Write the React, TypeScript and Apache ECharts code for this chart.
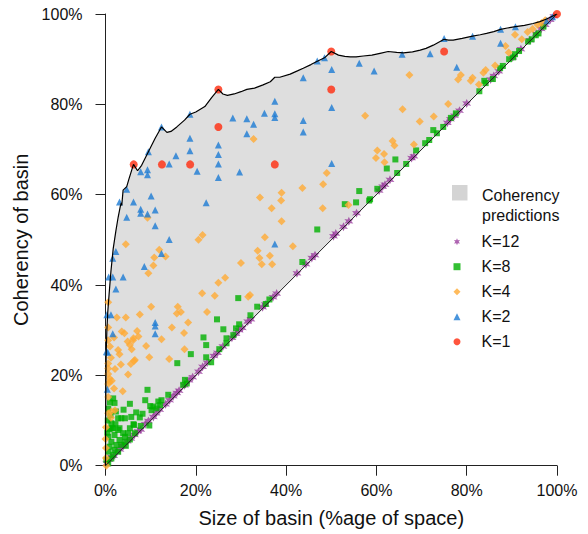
import React, { useEffect, useRef } from "react";
import * as echarts from "echarts";

// Axis ticks (percent)
const xTicks = [0, 20, 40, 60, 80, 100];
const yTicks = [0, 20, 40, 60, 80, 100];

// Upper envelope of the coherency predictions region
const curveX = [0, 0.02, 0.08, 0.15, 0.3, 0.5, 0.8, 1.2, 1.7, 2.3, 2.8, 3.3, 3.5, 3.6, 3.9, 4.7, 5.2, 6.2, 7.1, 8.0, 9.5, 11.0, 12.4, 13.6, 14.5, 15.8, 17.5, 18.7, 20.0, 22.0, 23.5, 25.0, 26.0, 27.0, 28.5, 30.0, 31.3, 33.0, 34.9, 36.5, 37.5, 38.6, 40.9, 42.5, 43.8, 45.5, 46.8, 48.5, 50.0, 51.6, 53.0, 54.2, 55.5, 57.1, 59.0, 60.8, 62.6, 64.5, 66.0, 68.0, 69.7, 71.0, 72.6, 75.0, 76.0, 77.0, 79.0, 81.3, 83.0, 84.4, 86.0, 87.5, 89.0, 90.8, 92.8, 94.7, 96.2, 97.7, 100];
const curveY = [0, 8, 18, 25, 30, 34, 38, 43, 48, 52, 55, 57.5, 58.2, 57.6, 61.0, 61.8, 63.5, 66.7, 65.3, 66.5, 69.5, 72.5, 75.0, 73.8, 74.0, 75.0, 76.5, 77.8, 78.3, 79.5, 81.5, 83.3, 82.3, 82.0, 82.3, 82.8, 83.3, 83.6, 84.3, 85.0, 86.0, 86.0, 86.7, 87.4, 88.0, 88.8, 89.5, 90.3, 91.7, 90.9, 90.6, 90.5, 90.5, 90.7, 90.9, 91.3, 91.7, 91.5, 91.4, 91.6, 92.0, 92.4, 93.1, 94.4, 94.2, 94.2, 94.6, 95.1, 95.4, 95.7, 96.1, 96.6, 96.9, 97.2, 97.5, 97.9, 98.3, 98.9, 100];

// Lower bound (size = coherency)
const diagX = [0, 100];
const diagY = [0, 100];

// Observed basins, [size %, coherency %]
const k1 = [[6.25, 66.7], [12.5, 66.7], [18.75, 66.7], [25, 83.3], [25, 75], [37.5, 66.7], [50, 91.7], [50, 83.3], [75, 91.7], [100, 100]];

const k2 = [[4.7, 61.2], [12.4, 75.0], [18.7, 77.8], [9.5, 69.5], [15.6, 68.6], [18.7, 72.5], [18.7, 69.7], [14.1, 66.8], [7.8, 65.1], [9.3, 65.5], [9.3, 64.4], [20.3, 65.2], [25.0, 71.0], [25.0, 68.9], [25.0, 66.8], [25.0, 63.8], [28.2, 77.0], [31.3, 76.8], [32.8, 75.6], [31.3, 73.5], [29.7, 65.0], [35.2, 78.0], [37.5, 80.7], [37.5, 77.9], [37.5, 77.1], [10.1, 59.7],
  [46.9, 89.6], [48.5, 90.3], [43.8, 85.9], [50.1, 87.7], [56.2, 89.1], [59.5, 87.4], [65.7, 91.1], [71.9, 91.2], [75.0, 94.6], [81.3, 95.1], [87.5, 96.6], [90.8, 97.2], [87.5, 93.5], [77.8, 88.2], [50.1, 79.3], [43.8, 76.4], [43.8, 73.9], [50.1, 66.9], [97.7, 98.5], [99.0, 99.4],
  [3.1, 58.4], [6.2, 58.4], [7.8, 56.8], [7.8, 55.9], [11.0, 56.6], [9.3, 55.7], [4.7, 55.0], [11.0, 53.1], [22.3, 58.2], [14.1, 50.1], [12.4, 47.0], [2.3, 47.4], [1.6, 45.9], [8.6, 44.1], [3.9, 41.8], [0.7, 41.8], [1.6, 41.8], [2.3, 39.1], [37.5, 49.1], [0.3, 33.4], [1.2, 33.4], [11.0, 31.7], [11.0, 30.9], [11.0, 29.2], [1.6, 29.2], [0.2, 25.2], [0.5, 25.1], [0.4, 16.9]];

const k4 = [[90.7, 95.4], [92.2, 94.4], [88.6, 92.9], [89.3, 91.5], [86.3, 88.6], [84.2, 87.6], [83.7, 87.0], [78.7, 86.5], [78.1, 85.5], [81.3, 85.9], [80.9, 85.2], [82.7, 84.4], [67.3, 86.5], [65.8, 78.9], [75.9, 80.1], [72.7, 77.3], [69.6, 76.2], [57.5, 77.5], [63.6, 71.9], [64.0, 70.9], [68.3, 71.1], [60.2, 69.8], [61.7, 69.0], [59.9, 68.1], [61.8, 67.2], [49.0, 64.8], [48.2, 62.3], [43.6, 61.5], [39.0, 60.4], [93.5, 96.0], [94.6, 96.7], [95.7, 97.6], [96.6, 98.0], [97.4, 98.6],
  [32.8, 72.3], [34.2, 59.4], [38.9, 58.7], [48.1, 57.0], [39.0, 54.1], [41.5, 48.6], [53.8, 57.7],
  [9.3, 54.9], [21.5, 51.1], [20.6, 50.0], [35.3, 50.6], [4.5, 49.0], [11.9, 47.8], [10.8, 46.1], [13.3, 46.3], [33.7, 47.6], [34.1, 46.0], [36.4, 46.5], [30.0, 44.9], [34.6, 44.6], [36.9, 44.6], [10.6, 44.3], [9.5, 42.6], [26.5, 41.6], [25.0, 40.5], [21.4, 38.2], [24.2, 37.6], [32.0, 37.8], [31.6, 37.4], [36.8, 57.0],
  [0.6, 36.2], [10.1, 35.2], [2.5, 32.8], [4.5, 32.8], [7.6, 33.5], [16.0, 35.2], [15.8, 33.7], [16.7, 34.0], [22.5, 34.0], [18.3, 31.7], [0.6, 30.6], [3.6, 29.7], [4.2, 29.3], [7.0, 29.8], [14.7, 30.6], [17.4, 29.4], [6.2, 28.2], [7.3, 28.6], [12.4, 28.0],
  [1.9, 28.4], [9.0, 26.5], [4.9, 27.5], [5.4, 26.7], [2.8, 25.6], [1.0, 26.4], [0.6, 27.8], [5.8, 25.8], [3.1, 24.7], [3.4, 22.4], [1.2, 23.9], [6.5, 23.4], [5.6, 22.5], [9.7, 24.0], [17.5, 25.8], [14.1, 23.6], [2.1, 21.4], [5.0, 20.2], [0.6, 22.6], [0.6, 21.5], [0.6, 20.3], [0.9, 19.3], [1.4, 18.8], [0.6, 18.1], [0.6, 15.2], [3.8, 16.5], [2.1, 12.3], [1.2, 10.6], [0.1, 8.5], [0.0, 5.9], [0.1, 3.9], [0.1, 1.7], [0.2, 0.0], [0.6, 11.6], [1.3, 12.0], [1.9, 17.1], [0.9, 18.6], [6.1, 27.8], [6.3, 23.2]];

const k8 = [[93.6, 93.9], [94.4, 94.4], [95.3, 95.3], [95.9, 95.7], [97.0, 97.2], [91.6, 91.8], [90.7, 91.1], [90.3, 90.4], [89.4, 90.0], [88.0, 88.5], [87.4, 88.0], [85.8, 85.6], [84.2, 84.7], [83.9, 85.2], [82.8, 82.9], [77.6, 78.0], [76.5, 77.0], [74.8, 75.0], [73.4, 73.6], [72.6, 74.3], [71.7, 72.1], [70.8, 71.4], [68.8, 69.8], [66.6, 66.8], [64.2, 67.8], [62.3, 65.8], [64.6, 64.8], [60.2, 61.3], [56.2, 60.8], [58.6, 59.0],
  [53.0, 57.9], [55.5, 58.3], [58.4, 58.7], [46.9, 52.3], [43.6, 45.1],
  [29.4, 37.1], [35.5, 35.8], [33.6, 35.2], [36.3, 36.8], [32.1, 33.3], [24.7, 32.4], [26.1, 30.2], [28.9, 30.4], [29.6, 31.3], [28.3, 28.9], [21.7, 28.4], [26.8, 28.2],
  [22.3, 26.7], [18.9, 24.7], [22.3, 24.0], [23.4, 22.9], [25.2, 25.8], [15.9, 22.7], [26.8, 27.1], [17.6, 19.0], [18.0, 18.2], [17.2, 17.9], [9.3, 16.8], [13.9, 15.7], [12.4, 14.5], [11.7, 14.2], [12.1, 13.4], [11.3, 12.7], [10.6, 13.1], [10.2, 12.3], [9.9, 13.2], [8.8, 14.5], [7.6, 10.7], [9.7, 8.9], [6.2, 9.2], [7.8, 8.8],
  [5.4, 13.7], [2.0, 13.9], [1.7, 14.9], [3.5, 10.5], [4.3, 10.5], [2.8, 10.5], [5.7, 10.8], [6.3, 9.0], [1.3, 9.4], [0.9, 8.1], [1.4, 8.3], [2.8, 7.9], [3.9, 7.2], [5.0, 7.2], [5.4, 8.3], [6.5, 7.2], [4.3, 6.4], [2.0, 6.8], [0.6, 6.4], [3.1, 5.7], [1.3, 5.3], [2.4, 4.6], [4.3, 5.3], [5.4, 5.8], [3.5, 4.6], [0.9, 4.2], [2.0, 3.5], [0.6, 3.1], [1.7, 2.4], [2.8, 3.1], [1.3, 1.6], [0.2, 1.3], [0.6, 0.5], [4.5, 4.4], [3.1, 8.3], [1.7, 8.3],
  [0.6, 12.6], [1.1, 11.2], [0.5, 10.0], [2.3, 12.0], [4.0, 12.4], [6.8, 11.8], [8.2, 11.5], [1.0, 14.0], [0.4, 7.3], [2.2, 9.2]];

const k12 = [[0.3, 0.5], [0.8, 1.3], [1.3, 1.9], [1.8, 2.2], [2.5, 3.0], [3.2, 3.6], [3.6, 4.4], [4.0, 4.4], [4.8, 5.4], [5.6, 6.0], [6.4, 6.8], [7.2, 7.6], [7.8, 8.0], [8.8, 9.2], [9.5, 9.9], [10.6, 10.8], [11.2, 11.6], [12.0, 12.4], [13.3, 13.6], [14.2, 14.5], [15.0, 15.4], [15.8, 16.1], [16.3, 16.6], [17.5, 17.8], [18.5, 18.9], [19.3, 19.6], [20.6, 20.8], [21.5, 21.9], [22.5, 22.8], [24.0, 24.3], [24.8, 25.0], [26.0, 26.4], [28.0, 28.3], [28.9, 29.2], [29.6, 30.0], [30.3, 30.5], [31.5, 31.9], [32.2, 32.4], [34.8, 35.1], [35.4, 35.7], [37.1, 37.3], [37.9, 38.1], [42.4, 42.6], [44.4, 44.6], [45.7, 46.0], [46.4, 46.6], [50.5, 50.8], [51.0, 51.4], [52.7, 52.9], [53.9, 54.1], [55.6, 55.9], [60.6, 60.9], [61.4, 61.8], [61.9, 62.2], [63.0, 63.3], [67.8, 68.1], [68.3, 68.5], [75.7, 75.9], [76.4, 76.7], [77.3, 77.5], [78.4, 78.6], [80.0, 80.2], [85.3, 85.5], [86.0, 86.3], [87.1, 87.3], [90.2, 90.4], [92.0, 92.2], [94.0, 94.2], [95.4, 95.6], [96.5, 96.7], [97.4, 97.6], [98.5, 98.7], [99.3, 99.5]];

const legendNames = ["K=12", "K=8", "K=4", "K=2", "K=1"];
const regionLabel = ["Coherency", "predictions"];

const FONT = "'Liberation Sans', Arial, Helvetica, sans-serif";

function starPath(points: number, inner: number) {
  let d = "";
  for (let i = 0; i < points * 2; i++) {
    const r = i % 2 ? inner : 1;
    const a = (Math.PI * i) / points - Math.PI / 2;
    d += (i ? "L" : "M") + (r * Math.cos(a)).toFixed(3) + "," + (r * Math.sin(a)).toFixed(3) + " ";
  }
  return "path://" + d + "Z";
}

export default function App() {
  const ref = useRef<HTMLDivElement>(null);
  useEffect(() => {
    const chart = echarts.init(ref.current!, null, { renderer: "svg" });
    const axisCommon = {
      type: "value",
      min: 0,
      max: 100,
      interval: 20,
      splitLine: { show: false },
      axisLine: { show: true, lineStyle: { color: "#222", width: 1 } },
      axisTick: { show: true, length: 10, lineStyle: { color: "#222", width: 1 } },
      nameLocation: "middle",
      nameTextStyle: { fontSize: 20, color: "#111", fontFamily: FONT },
    };
    const option: any = {
      animation: false,
      backgroundColor: "#fff",
      textStyle: { fontFamily: FONT },
      grid: { left: 105.5, right: 31, top: 14, bottom: 68.3, containLabel: false, outerBoundsMode: "none" },
      xAxis: {
        ...axisCommon,
        name: "Size of basin (%age of space)",
        nameGap: 42,
        axisLabel: { formatter: (v: number) => (xTicks.includes(v) ? v + "%" : ""), fontSize: 16, color: "#111", margin: 17, fontFamily: FONT },
      },
      yAxis: {
        ...axisCommon,
        name: "Coherency of basin",
        nameGap: 67,
        nameRotate: 90,
        axisLabel: { formatter: (v: number) => (yTicks.includes(v) ? v + "%" : ""), fontSize: 16, color: "#111", margin: 23, fontFamily: FONT },
      },
      legend: {
        data: legendNames,
        orient: "vertical",
        left: 453.5,
        top: 233.7,
        padding: 0,
        itemWidth: 7,
        itemHeight: 7,
        itemGap: 9,
        selectedMode: false,
        textStyle: { fontSize: 16, color: "#111", fontFamily: FONT, padding: [0, 0, 0, 16] },
      },
      graphic: [
        { type: "rect", left: 452, top: 185, shape: { width: 15.5, height: 15.5 }, style: { fill: "#D4D4D4" } },
        { type: "text", x: 482, y: 195.7, style: { text: regionLabel[0], fontSize: 16, fill: "#111", fontFamily: FONT, verticalAlign: "middle" } },
        { type: "text", x: 482, y: 215.7, style: { text: regionLabel[1], fontSize: 16, fill: "#111", fontFamily: FONT, verticalAlign: "middle" } },
      ],
      series: [
        {
          type: "custom",
          name: "Coherency predictions",
          silent: true,
          data: [[0, 0]],
          renderItem: (_p: any, api: any) => {
            const pts = curveX.map((x, i) => api.coord([x, curveY[i]]));
            return { type: "polygon", shape: { points: pts }, style: { fill: "#DEDEDE", stroke: "none" } };
          },
        },
        {
          type: "line",
          name: "envelope",
          data: curveX.map((x, i) => [x, curveY[i]]),
          symbol: "none",
          lineStyle: { color: "#000", width: 1.2 },
          silent: true,
        },
        {
          type: "line",
          name: "diagonal",
          data: diagX.map((x, i) => [x, diagY[i]]),
          symbol: "none",
          lineStyle: { color: "#222", width: 1 },
          silent: true,
        },
        { type: "scatter", name: "K=12", data: k12, symbol: starPath(6, 0.48), symbolSize: 9, itemStyle: { color: "#9A3C9E" } },
        { type: "scatter", name: "K=8", data: k8, symbol: "rect", symbolSize: 6, itemStyle: { color: "#00B000" } },
        { type: "scatter", name: "K=4", data: k4, symbol: "diamond", symbolSize: 8, itemStyle: { color: "#FFAA33" } },
        { type: "scatter", name: "K=2", data: k2, symbol: "triangle", symbolSize: 7, itemStyle: { color: "#1B7BD3" } },
        { type: "scatter", name: "K=1", data: k1, symbol: "circle", symbolSize: 8, itemStyle: { color: "#FF2A0D" } },
      ],
    };
    chart.setOption(option);
    return () => chart.dispose();
  }, []);
  return <div ref={ref} style={{ position: "fixed", left: 0, top: 0, width: 588, height: 534, background: "#fff" }} />;
}
